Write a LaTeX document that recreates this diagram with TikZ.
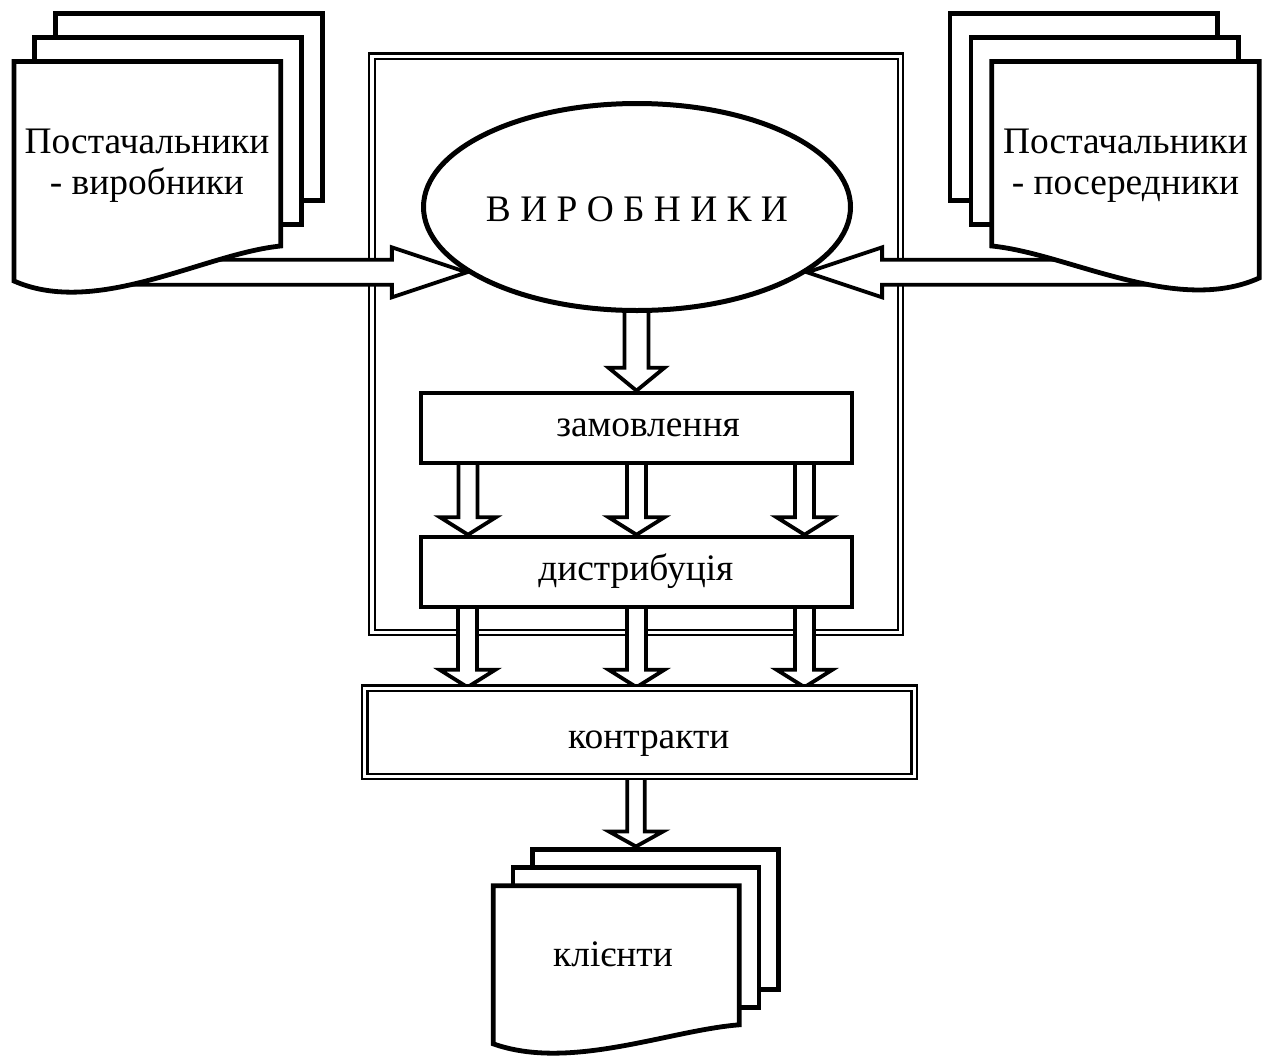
\documentclass[tikz,border=0pt]{standalone}
\usepackage{fontspec}
\setmainfont{Liberation Serif}
\usetikzlibrary{calc,shapes.geometric}

\pgfdeclarelayer{framelayer}
\pgfdeclarelayer{arrowlayer}
\pgfsetlayers{framelayer,arrowlayer,main}

\tikzset{
  sheet/.style={draw=black, fill=white, line width=4.8pt, line join=miter},
  fatarrow/.style={draw=black, fill=white, line width=3.8pt, line join=miter},
  stepbox/.style={rectangle, draw=black, fill=white, line width=4pt, inner sep=0pt},
  plantoval/.style={ellipse, draw=black, fill=white, line width=5pt, inner sep=0pt},
  dblbox/.style={rectangle, draw=black, fill=white, double=white, double distance=3.4pt,
                 line width=2.1pt, inner sep=0pt},
  lbl/.style={font=\fontsize{37.4}{40.5}\selectfont, inner sep=0pt, anchor=base},
}

% three stacked sheets: front sheet with a wavy lower edge, two plain sheets behind it
% #1 scope options, #2 width, #3 short side, #4 long side, #5/#6 wave control depths,
% #7/#8 offset of each sheet behind, #9 height of the sheets behind
\newcommand\sheetstack[9]{%
  \begin{scope}[#1]
    \path[sheet] ({2*(#7)},{2*(#8)}) rectangle ++(#2,#9);
    \path[sheet] (#7,#8) rectangle ++(#2,#9);
    \path[sheet] (0,0) -- (#2,0) -- (#2,#3)
      .. controls ({0.715*#2},#5) and ({0.311*#2},#6) .. (0,#4) -- cycle;
  \end{scope}}

% hollow block arrow pointing down: from, to, shaft half width, head half width, head length
\newcommand\downblock[5]{%
  \path[fatarrow] let \p1=(#1), \p2=(#2) in
    ({\x2-#3pt},\y1) -- ({\x2-#3pt},{\y2+#5pt}) -- ({\x2-#4pt},{\y2+#5pt}) -- (\x2,\y2)
    -- ({\x2+#4pt},{\y2+#5pt}) -- ({\x2+#3pt},{\y2+#5pt}) -- ({\x2+#3pt},\y1) -- cycle;}

% hollow block arrow running sideways: from, to, shaft half width, head half width, head length
\newcommand\sideblock[5]{%
  \path[fatarrow] let \p1=(#1), \p2=(#2), \n1={sign(\x2-\x1)} in
    (\x1,{\y2+#3pt}) -- ({\x2-\n1*#5pt},{\y2+#3pt}) -- ({\x2-\n1*#5pt},{\y2+#4pt}) -- (\x2,\y2)
    -- ({\x2-\n1*#5pt},{\y2-#4pt}) -- ({\x2-\n1*#5pt},{\y2-#3pt}) -- (\x1,{\y2-#3pt}) -- cycle;}

\begin{document}
\begin{tikzpicture}[x=1pt,y=-1pt]
\useasboundingbox (0,0) rectangle (1264,1061);

% producers and their internal steps
\node[plantoval, minimum width=427pt, minimum height=207pt] (prod) at (637,207) {};
\node[lbl] (prodtxt) at (637,221.7) {В И Р О Б Н И К И};
\node[stepbox, minimum width=431pt, minimum height=70.6pt] (order) at (636.5,428) {};
\node[lbl] (ordertxt) at (648,436.7) {замовлення};
\node[stepbox, minimum width=431pt, minimum height=70pt] (distr) at (636.5,571.7) {};
\node[lbl] (distrtxt) at (635.8,580) {дистрибуція};
\node[dblbox, minimum width=549.5pt, minimum height=88.3pt] (kontr) at (639.45,732.35) {};
\node[lbl] (kontrtxt) at (648.8,748) {контракти};

% suppliers and clients (a two-line label sits on the baseline of its last line)
\sheetstack{shift={(14,61.5)}}{266.7}{184.5}{219.5}{192}{256}{20.8}{-24.2}{187}
\node[lbl, align=center] (supL) at (147,194.3) {Постачальники\\- виробники};
\sheetstack{shift={(1259.2,61.5)},xscale=-1}{267.4}{184.5}{216.5}{192}{254}{20.9}{-24.2}{187}
\node[lbl, align=center] (supR) at (1125.5,194.3) {Постачальники\\- посередники};
\sheetstack{shift={(493.2,885.8)}}{246}{139}{158}{144.5}{185.4}{19.7}{-18.3}{140}
\node[lbl] (client) at (613,966.5) {клієнти};

% flows
\begin{pgfonlayer}{arrowlayer}
  \coordinate (supLin) at (90,272);
  \coordinate (supRin) at (1183,272);
  \coordinate (clienttop) at (636,846.5);
  \sideblock{supLin}{prod.201}{12.5}{25}{75}
  \sideblock{supRin}{prod.339}{12.5}{25}{75}
  \downblock{prod.center}{order.north}{12}{28}{23}
  \downblock{order.center}{[xshift=-168.5pt]distr.north}{9.5}{28}{17.5}
  \downblock{order.center}{distr.north}{9.5}{28}{17.5}
  \downblock{order.center}{[xshift=168pt]distr.north}{9.5}{28}{17.5}
  \downblock{distr.center}{[xshift=-169pt]distr.south |- kontr.north}{9.5}{28}{17.5}
  \downblock{distr.center}{distr.south |- kontr.north}{9.5}{28}{17.5}
  \downblock{distr.center}{[xshift=168pt]distr.south |- kontr.north}{9.5}{28}{17.5}
  \downblock{kontr.center}{clienttop}{8.7}{27}{15}
\end{pgfonlayer}

% outline of the producing company
\begin{pgfonlayer}{framelayer}
  \fill[white] (0,0) rectangle (1264,1061);
  \node[dblbox, minimum width=528.7pt, minimum height=576.3pt] (firm) at (636.15,344.35) {};
\end{pgfonlayer}
\end{tikzpicture}
\end{document}
